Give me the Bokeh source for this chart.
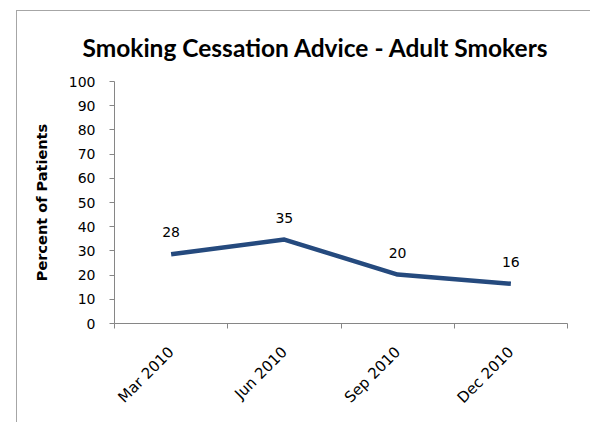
import math
from bokeh.plotting import figure
from bokeh.models import FixedTicker, LabelSet, ColumnDataSource, Range1d, Title
from bokeh.core.properties import value
from bokeh.embed import file_html
from bokeh.resources import INLINE

title_text = "Smoking Cessation Advice - Adult Smokers"
y_label = "Percent of Patients"
categories = ["Mar 2010", "Jun 2010", "Sep 2010", "Dec 2010"]
values = [28.6, 34.7, 20.2, 16.4]
value_labels = ["28", "35", "20", "16"]
y_ticks = [0, 10, 20, 30, 40, 50, 60, 70, 80, 90, 100]

FONT = "DejaVu Sans"
TITLE_FONT = "Lato"
LINE = "#254a7e"
AXIS = "#868686"

xs = [i + 0.5 for i in range(len(categories))]
src = ColumnDataSource(dict(x=xs, y=values, lab=value_labels))

p = figure(width=574, height=412, output_backend="svg", toolbar_location=None,
           x_range=Range1d(0, len(categories)), y_range=Range1d(0, 100),
           min_border_left=97, min_border_right=24, min_border_top=69, min_border_bottom=100)
p.styles = {"margin-left": "16px", "margin-top": "10px",
            "border-left": "1px solid #a6a6a6", "border-top": "1px solid #a6a6a6"}
p.outline_line_color = None
p.grid.visible = False
p.background_fill_color = "white"
p.border_fill_color = "white"

p.title = Title(text=title_text, align="left", offset=-32, standoff=39,
                text_font=TITLE_FONT, text_font_style="bold", text_font_size="24.5px",
                text_color="#000000")

p.line("x", "y", source=src, line_color=LINE, line_width=4.5, line_join="round")

labels = LabelSet(x="x", y="y", text="lab", source=src, y_offset=22,
                  text_align="center", text_baseline="middle",
                  text_font=value(FONT), text_font_size=value("14px"), text_color="#000000")
p.add_layout(labels)

xa = p.xaxis[0]
xa.ticker = FixedTicker(ticks=xs, minor_ticks=list(range(len(categories) + 1)))
xa.major_label_overrides = {x: c for x, c in zip(xs, categories)}
xa.major_tick_out = 0
xa.major_tick_in = 0
xa.minor_tick_out = 5
xa.minor_tick_in = 0
xa.minor_tick_line_color = AXIS
xa.axis_line_color = AXIS
xa.major_label_orientation = math.pi / 4
xa.major_label_text_font = FONT
xa.major_label_text_font_size = "15px"
xa.major_label_text_color = "#000000"
xa.major_label_standoff = 21

ya = p.yaxis[0]
ya.ticker = FixedTicker(ticks=y_ticks, minor_ticks=[])
ya.major_tick_out = 5
ya.major_tick_in = 0
ya.major_tick_line_color = AXIS
ya.axis_line_color = AXIS
ya.minor_tick_line_color = None
ya.major_label_text_font = FONT
ya.major_label_text_font_size = "14px"
ya.major_label_text_color = "#000000"
ya.major_label_standoff = 14
ya.axis_label = y_label
ya.axis_label_text_font = FONT
ya.axis_label_text_font_style = "bold"
ya.axis_label_text_font_size = "14.5px"
ya.axis_label_text_color = "#000000"
ya.axis_label_standoff = 16

open("out.html", "w").write(file_html(p, INLINE))
